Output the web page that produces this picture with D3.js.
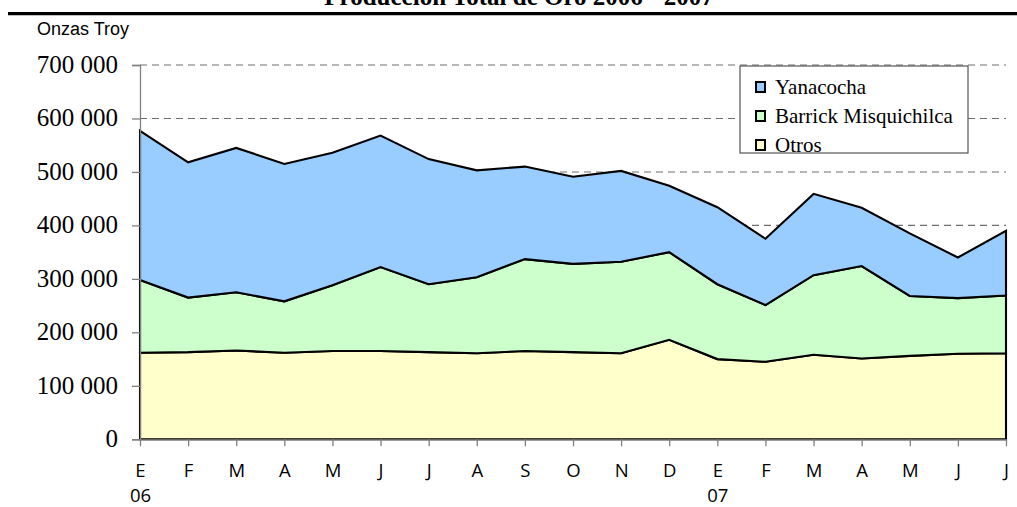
<!DOCTYPE html>
<html>
<head>
<meta charset="utf-8">
<script src="https://cdn.jsdelivr.net/npm/d3@7"></script>
<style>
  body { margin: 0; background: #fff; }
  svg { display: block; }
</style>
</head>
<body>
<svg id="chart"></svg>
<script>
var width = 1017,
    height = 507;

// data (onzas troy)
var months = ["E","F","M","A","M","J","J","A","S","O","N","D","E","F","M","A","M","J","J"];
var years = ["06","","","","","","","","","","","","07","","","","","",""];
var otros = [162000,163000,166000,162000,165000,165000,163000,161000,165000,163000,161000,186000,150000,145000,158000,151000,156000,160000,161000];
var barrick = [136000,102000,109000,96000,123000,157000,127000,142000,172000,165000,171000,164000,140000,106000,149000,173000,112000,104000,108000];
var yanacocha = [279000,253000,270000,257000,248000,246000,234000,200000,173000,163000,170000,124000,144000,124000,152000,109000,117000,76000,121000];
var yTicks = [0,100000,200000,300000,400000,500000,600000,700000];

var series = ["Otros", "Barrick Misquichilca", "Yanacocha"];
var colors = {"Otros": "#ffffcc", "Barrick Misquichilca": "#ccffcc", "Yanacocha": "#99ccff"};

var rows = months.map(function(m, i) {
  return {i: i, "Otros": otros[i], "Barrick Misquichilca": barrick[i], "Yanacocha": yanacocha[i]};
});

var svg = d3.select("#chart")
            .attr("width", width)
            .attr("height", height);

var x = d3.scalePoint()
          .domain(d3.range(months.length))
          .range([140, 1006]);

var y = d3.scaleLinear()
          .domain([0, 700000])
          .range([439.3, 65]);

var fmt = d3.formatLocale({decimal: ",", thousands: " ", grouping: [3], currency: ["", ""]}).format(",d");

//title + rule (the title sits partly above the page edge, as in the source)
svg.append("text")
   .attr("x", 519)
   .attr("y", 5)
   .attr("text-anchor", "middle")
   .style("font-family", "'Liberation Serif', 'Times New Roman', serif")
   .style("font-weight", "bold")
   .style("font-size", "25px")
   .text("Producción Total de Oro 2006 - 2007");

svg.append("line")
   .attr("x1", 8).attr("x2", width)
   .attr("y1", 13.7).attr("y2", 13.7)
   .attr("stroke", "#000")
   .attr("stroke-width", 3.2);

svg.append("text")
   .attr("x", 37)
   .attr("y", 34.5)
   .style("font-family", "'Liberation Sans', Arial, sans-serif")
   .style("font-size", "18px")
   .text("Onzas Troy");

//gridlines
svg.append("g")
   .selectAll("line")
   .data(yTicks.filter(function(d) { return d > 0; }))
   .join("line")
   .attr("x1", 140).attr("x2", 1006)
   .attr("y1", function(d) { return y(d); })
   .attr("y2", function(d) { return y(d); })
   .attr("stroke", "#6e6e6e")
   .attr("stroke-width", 1.1)
   .attr("stroke-dasharray", "7,5");

//stacked areas
var stack = d3.stack().keys(series);
var layers = stack(rows);

var area = d3.area()
             .x(function(d) { return x(d.data.i); })
             .y0(function(d) { return y(d[0]); })
             .y1(function(d) { return y(d[1]); });

svg.append("g")
   .selectAll("path")
   .data(layers)
   .join("path")
   .attr("d", area)
   .attr("fill", function(d) { return colors[d.key]; })
   .attr("stroke", "#000")
   .attr("stroke-width", 2.1)
   .attr("stroke-linejoin", "miter");

//axes
var yAxis = d3.axisLeft(y)
              .tickValues(yTicks)
              .tickFormat(fmt)
              .tickSize(8)
              .tickPadding(14);

var gy = svg.append("g")
            .attr("transform", "translate(140,0)")
            .call(yAxis);
gy.select(".domain").attr("stroke", "#808080").attr("stroke-width", 1.3);
gy.selectAll(".tick line").attr("stroke", "#808080").attr("stroke-width", 1.3);
gy.selectAll(".tick text")
  .attr("dy", "0.3em")
  .style("font-family", "'Liberation Serif', 'Times New Roman', serif")
  .style("font-size", "25px")
  .attr("fill", "#000");

var xAxis = d3.axisBottom(x)
              .tickFormat(function(i) { return months[i]; })
              .tickSize(7)
              .tickSizeOuter(0)
              .tickPadding(22);

var gx = svg.append("g")
            .attr("transform", "translate(0,439.3)")
            .call(xAxis);
gx.select(".domain").attr("stroke", "#808080").attr("stroke-width", 1.3);
gx.selectAll(".tick line").attr("stroke", "#808080").attr("stroke-width", 1.3);
gx.selectAll(".tick text")
  .attr("dy", 0)
  .attr("y", 37.5)
  .style("font-family", "'Open Sans', 'DejaVu Sans', sans-serif")
  .style("font-size", "18.5px")
  .attr("fill", "#000");

gx.selectAll(".tick")
  .append("text")
  .attr("y", 62.5)
  .attr("text-anchor", "middle")
  .attr("fill", "#000")
  .style("font-family", "'Open Sans', 'DejaVu Sans', sans-serif")
  .style("font-size", "18.5px")
  .text(function(i) { return years[i]; });

//legend
var legend = svg.append("g").attr("transform", "translate(740,66)");
legend.append("rect")
      .attr("width", 228).attr("height", 87)
      .attr("fill", "#fff")
      .attr("stroke", "#555")
      .attr("stroke-width", 1.2);

var items = legend.selectAll("g.item")
                  .data(series.slice().reverse())
                  .join("g")
                  .attr("class", "item")
                  .attr("transform", function(d, i) { return "translate(16," + (21 + i * 29) + ")"; });

items.append("rect")
     .attr("x", 0).attr("y", -5)
     .attr("width", 9).attr("height", 10)
     .attr("fill", function(d) { return colors[d]; })
     .attr("stroke", "#000")
     .attr("stroke-width", 2);

items.append("text")
     .attr("x", 19)
     .attr("y", 7)
     .style("font-family", "'Liberation Serif', 'Times New Roman', serif")
     .style("font-size", "21px")
     .text(function(d) { return d; });
</script>
</body>
</html>
